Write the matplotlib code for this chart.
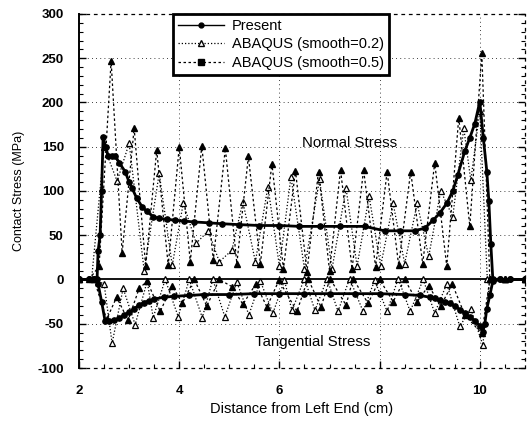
import matplotlib.pyplot as plt
from matplotlib.lines import Line2D
from matplotlib.ticker import MultipleLocator

# Present (normal stress)
x_present_n = [2.0, 2.2, 2.3, 2.36, 2.38, 2.42, 2.45, 2.48, 2.53, 2.58, 2.65, 2.72, 2.8, 2.92, 3.0,
               3.06, 3.15, 3.26, 3.35, 3.48, 3.6, 3.75, 3.92, 4.1, 4.3, 4.6, 4.85, 5.2, 5.6, 6.0,
               6.4, 6.8, 7.2, 7.7, 8.1, 8.4, 8.7, 8.9, 9.07, 9.2, 9.34, 9.46, 9.56, 9.7, 9.8,
               9.9, 10.0, 10.07, 10.14, 10.18, 10.22, 10.26, 10.4, 10.6, 10.9]
y_present_n = [0, 0, 0, 1, 32, 50, 100, 161, 150, 140, 140, 140, 132, 122, 110,
               103, 92, 82, 77, 71, 69, 68, 67, 66, 65, 64, 63, 62, 61, 61,
               60, 60, 60, 60, 55, 55, 55, 58, 67, 75, 86, 100, 118, 145, 160,
               176, 201, 160, 122, 89, 40, 0, 0, 0, 0]

# Present (tangential stress)
x_present_t = [2.0, 2.2, 2.3, 2.38, 2.45, 2.52, 2.6, 2.7, 2.8, 2.9, 3.0, 3.1, 3.2, 3.3, 3.4, 3.5,
               3.7, 3.9, 4.2, 4.5, 5.0, 5.5, 6.0, 6.5, 7.0, 7.5, 8.0, 8.5, 8.8, 9.0, 9.1, 9.2,
               9.3, 9.4, 9.5, 9.6, 9.7, 9.8, 9.9, 10.0, 10.06, 10.1, 10.14, 10.2, 10.26, 10.4,
               10.6, 10.9]
y_present_t = [0, 0, 0, -5, -25, -47, -47, -46, -44, -40, -37, -33, -29, -26, -24, -22,
               -20, -19, -18, -17, -17, -16, -16, -16, -16, -16, -16, -17, -18, -20, -21, -23,
               -25, -27, -30, -34, -38, -42, -47, -52, -59, -50, -33, -18, -2, 0,
               0, 0]

# ABAQUS smooth=0.2 (normal / tangential)
x_s02_n = [2.0, 2.25, 2.5, 2.76, 3.0, 3.3, 3.6, 3.86, 4.08, 4.34, 4.58, 4.8, 5.05, 5.27, 5.52,
           5.77, 6.0, 6.23, 6.5, 6.8, 7.05, 7.33, 7.55, 7.79, 8.02, 8.27, 8.5, 8.75, 8.98, 9.22,
           9.46, 9.68, 9.82, 10.0, 10.15, 10.5, 10.9]
y_s02_n = [0, 0, 150, 111, 154, 10, 120, 16, 86, 41, 55, 20, 33, 88, 20,
           105, 15, 116, 12, 113, 12, 103, 15, 94, 15, 86, 18, 86, 26, 100,
           71, 171, 112, 190, 0, 0, 0]
x_s02_t = [2.0, 2.3, 2.5, 2.66, 2.88, 3.12, 3.36, 3.48, 3.72, 3.98, 4.2, 4.46, 4.67, 4.91, 5.15,
           5.39, 5.62, 5.87, 6.1, 6.25, 6.5, 6.71, 6.95, 7.17, 7.4, 7.67, 7.9, 8.15, 8.37, 8.61,
           8.87, 9.1, 9.34, 9.6, 9.82, 10.06, 10.2, 10.5, 10.9]
y_s02_t = [0, 0, -5, -72, -10, -51, -2, -43, 0, -42, 0, -43, 0, -42, -3,
           -40, -2, -38, -1, -35, 1, -35, 1, -36, 1, -36, -1, -36, 1, -36,
           0, -38, -5, -53, -33, -74, 0, 0, 0]

# ABAQUS smooth=0.5 (normal / tangential)
x_s05_n = [2.0, 2.2, 2.4, 2.64, 2.86, 3.1, 3.33, 3.55, 3.78, 4.0, 4.22, 4.45, 4.68, 4.92, 5.15,
           5.38, 5.62, 5.85, 6.08, 6.32, 6.55, 6.78, 7.0, 7.22, 7.45, 7.68, 7.92, 8.15, 8.38,
           8.62, 8.86, 9.1, 9.34, 9.58, 9.8, 10.04, 10.2, 10.5, 10.9]
y_s05_n = [0, 0, 15, 247, 30, 171, 15, 146, 16, 150, 20, 151, 22, 148, 18,
           139, 18, 131, 12, 123, 9, 122, 10, 124, 12, 124, 14, 122, 16,
           122, 18, 132, 15, 183, 60, 256, 0, 0, 0]
x_s05_t = [2.0, 2.3, 2.55, 2.75, 2.98, 3.2, 3.36, 3.62, 3.86, 4.06, 4.3, 4.55, 4.8, 5.05, 5.27,
           5.53, 5.75, 5.99, 6.35, 6.57, 6.83, 7.01, 7.33, 7.47, 7.77, 8.0, 8.27, 8.5, 8.75,
           8.98, 9.22, 9.45, 9.7, 10.04, 10.2, 10.5, 10.9]
y_s05_t = [0, 0, -45, -20, -46, -10, -2, -36, -7, -27, 0, -30, 0, -8, -28,
           -5, -31, -1, -36, 1, -31, 1, -29, 1, -27, 0, -25, 0, -25,
           -7, -30, -5, -40, -61, 0, 0, 0]

plt.rcParams['font.family'] = ['Liberation Sans', 'DejaVu Sans']
plt.rcParams['axes.unicode_minus'] = False

fig = plt.figure(figsize=(5.27, 4.23), dpi=100)
ax = fig.add_axes([0.150, 0.130, 0.846, 0.837])

# grid + zero line
for gx in [4, 6, 8, 10]:
    ax.axvline(gx, color='black', lw=0.6, ls=(0, (1, 4)), zorder=0)
for gy in [-50, 50, 100, 150, 200, 250]:
    ax.axhline(gy, color='black', lw=0.6, ls=(0, (1, 4)), zorder=0)
ax.axhline(0, color='black', lw=1.3, zorder=1)

s02 = dict(color='black', lw=0.9, ls=(0, (1, 1.6)), marker='^', ms=5,
           mfc='white', mec='black', mew=0.9)
s05 = dict(color='black', lw=0.9, ls=(0, (2, 2)), marker='^', ms=5,
           mfc='black', mec='black')
pres = dict(color='black', lw=2.0, marker='o', ms=3.8, mfc='black', mec='black')

ax.plot(x_s02_n, y_s02_n, **s02)
ax.plot(x_s02_t, y_s02_t, **s02)
ax.plot(x_s05_n, y_s05_n, **s05)
ax.plot(x_s05_t, y_s05_t, **s05)
ax.plot(x_present_n, y_present_n, **pres)
ax.plot(x_present_t, y_present_t, **pres)

ax.set_xlim(2, 10.9)
ax.set_ylim(-100, 300)
ax.set_xticks([2, 4, 6, 8, 10])
ax.set_yticks([-100, -50, 0, 50, 100, 150, 200, 250, 300])
ax.yaxis.set_minor_locator(MultipleLocator(10))
ax.xaxis.set_minor_locator(MultipleLocator(0.5))
ax.tick_params(axis='both', which='both', direction='in', right=True, top=False)
ax.tick_params(which='major', length=5, width=1, labelsize=9.5)
ax.tick_params(axis='y', which='major', pad=11)
ax.tick_params(axis='x', which='major', pad=12)
ax.tick_params(which='minor', length=3, width=0.8)
for lab in ax.get_xticklabels() + ax.get_yticklabels():
    lab.set_fontweight('bold')

ax.spines['left'].set_linewidth(1.4)
for side in ['top', 'right', 'bottom']:
    ax.spines[side].set_linestyle((0, (2, 4)))
    ax.spines[side].set_linewidth(0.9)

ax.set_xlabel('Distance from Left End (cm)', fontsize=10.5, labelpad=4)
ax.set_ylabel('Contact Stress (MPa)', fontsize=9, labelpad=9)

ax.text(7.41, 154, 'Normal Stress', fontsize=10.8, ha='center', va='center')
ax.text(6.67, -71, 'Tangential Stress', fontsize=10.8, ha='center', va='center')

handles = [
    Line2D([], [], color='black', lw=1, marker='o', ms=3.5, mfc='black'),
    Line2D([], [], color='black', lw=0.9, ls=(0, (1, 1.6)), marker='^', ms=5,
           mfc='white', mec='black'),
    Line2D([], [], color='black', lw=0.9, ls=(0, (2, 2)), marker='s', ms=4,
           mfc='black', mec='black'),
]
labels = ['Present', 'ABAQUS (smooth=0.2)', 'ABAQUS (smooth=0.5)']
leg = ax.legend(handles, labels, loc='upper left', bbox_to_anchor=(0.21, 1.0),
                borderaxespad=0, fontsize=10.5, frameon=True, fancybox=False,
                handlelength=3.2, labelspacing=0.3, borderpad=0.35,
                handletextpad=0.5)
leg.get_frame().set_edgecolor('black')
leg.get_frame().set_linewidth(2)
leg.get_frame().set_alpha(1)

fig.savefig('out.png', dpi=100)
